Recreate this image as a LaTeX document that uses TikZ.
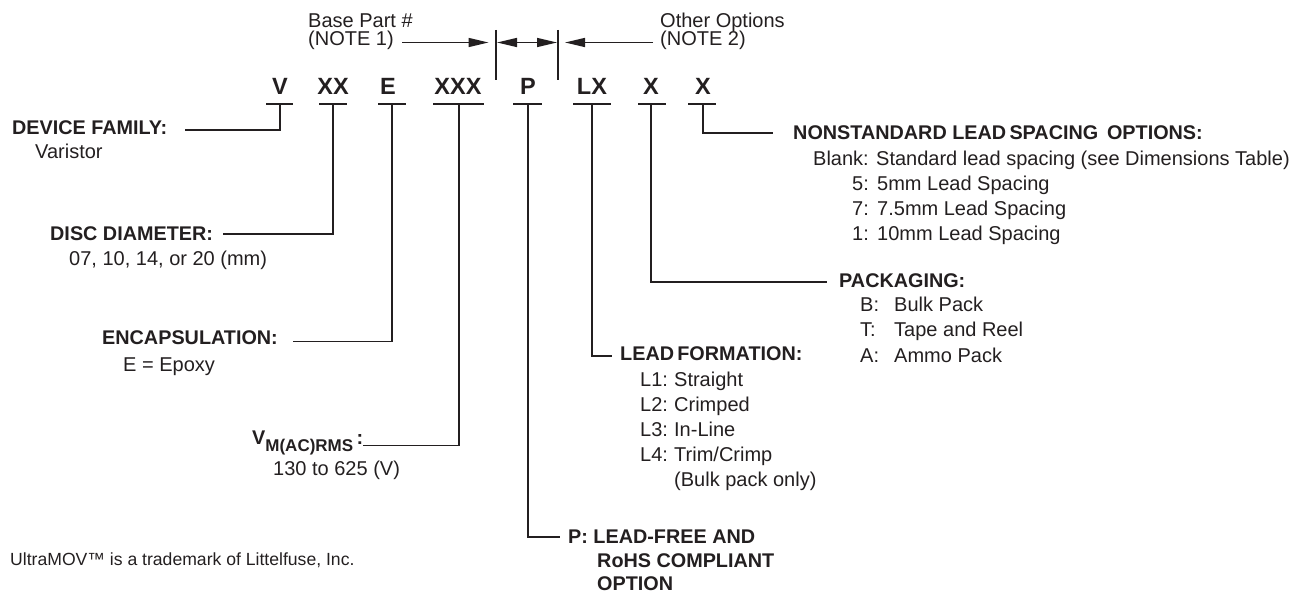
\documentclass[tikz,border=0pt]{standalone}
\usepackage{fontspec}
\setmainfont{Liberation Sans}
\usetikzlibrary{arrows.meta}
\definecolor{ink}{RGB}{35,31,32}
\begin{document}
\begin{tikzpicture}[x=1pt,y=-1pt,
  ln/.style={line width=1.5pt, draw=ink},
  thin/.style={line width=1.2pt, draw=ink},
  letter/.style={font=\fontsize{23.5}{24}\selectfont\bfseries, anchor=base, inner sep=0pt, text=ink},
  head/.style={font=\fontsize{19.8}{24}\selectfont\bfseries, anchor=base west, inner sep=0pt, text=ink},
  body/.style={font=\fontsize{20}{25}\selectfont, anchor=base west, inner sep=0pt, text=ink},
  arr/.style={-{Triangle[length=20pt,width=9pt]}}
]
\useasboundingbox (0,0) rectangle (1308,593);

% ---------- header ----------
\node[body] (bp1) at (308,28) {Base Part \#};
\node[body] (bp2) at (308,46) {(NOTE 1)};
\node[body] (oo1) at (660,28) {Other Options};
\node[body] (oo2) at (660,46) {(NOTE 2)};
\coordinate (s1t) at (496,30); \coordinate (s1b) at (496,80);
\coordinate (s2t) at (558,30); \coordinate (s2b) at (558,80);
\draw[thin] (s1t) -- (s1b);
\draw[thin] (s2t) -- (s2b);
\coordinate (a1s) at (402,42.5); \coordinate (a1e) at (488.5,42.5);
\coordinate (a2s) at (497,42.5); \coordinate (a2e) at (557,42.5);
\coordinate (a3s) at (653,42.5); \coordinate (a3e) at (565,42.5);
\draw[ln,arr] (a1s) -- (a1e);
\draw[ln,{Triangle[length=20pt,width=9pt]}-{Triangle[length=20pt,width=9pt]}] (a2s) -- (a2e);
\draw[ln,arr] (a3s) -- (a3e);

% ---------- part-number letters ----------
\node[letter] (lV)   at (280,95) {V};
\node[letter] (lXX)  at (333,95) {XX};
\node[letter] (lE)   at (388,95) {E};
\node[letter] (lXXX) at (458,95) {XXX};
\node[letter] (lP)   at (528,95) {P};
\node[letter] (lLX)  at (592,95) {LX};
\node[letter] (lXa)  at (651,95) {X};
\node[letter] (lXb)  at (703,95) {X};

% bars under letters
\draw[ln] (266,104) -- (293,104);
\draw[ln] (319,104) -- (347,104);
\draw[ln] (378,104) -- (406,104);
\draw[ln] (433,104) -- (484,104);
\draw[ln] (513,104) -- (542,104);
\draw[ln] (573,104) -- (611,104);
\draw[ln] (638,104) -- (666,104);
\draw[ln] (688,104) -- (716,104);

\coordinate (bV)   at (280,104);
\coordinate (bXX)  at (333,104);
\coordinate (bE)   at (392,104);
\coordinate (bXXX) at (459,104);
\coordinate (bP)   at (528,104);
\coordinate (bLX)  at (592,104);
\coordinate (bXa)  at (651,104);
\coordinate (bXb)  at (703,104);

% ---------- labels ----------
\node[head] (devfam) at (12,135) {DEVICE FAMILY:};
\node[body] (devfamd) at (35,159) {Varistor};

\node[head] (disc) at (50,241) {DISC DIAMETER:};
\node[body] (discd) at (69,266) {07, 10, 14, or 20 (mm)};

\node[head] (encap) at (102,344.5) {ENCAPSULATION:};
\node[body] (encapd) at (123,371.5) {E = Epoxy};

\node[head] (vm) at (252,444.5) {V\raisebox{-7pt}{\fontsize{17}{17}\selectfont M(AC)RMS}\,:};
\node[body] (vmd) at (273,475) {130 to 625 (V)};

\node[head] (pf1) at (568,543) {P: LEAD-FREE AND};
\node[head] (pf2) at (597,567) {RoHS COMPLIANT};
\node[head] (pf3) at (597,590.5) {OPTION};

\node[head] (lf) at (620,360) {LEAD\,FORMATION:};
\node[body] (lf1) at (640,386.5) {\makebox[34pt][l]{L1:}Straight};
\node[body] (lf2) at (640,411.5) {\makebox[34pt][l]{L2:}Crimped};
\node[body] (lf3) at (640,436.5) {\makebox[34pt][l]{L3:}In-Line};
\node[body] (lf4) at (640,461.5) {\makebox[34pt][l]{L4:}Trim/Crimp};
\node[body] (lf5) at (674,486.5) {(Bulk pack only)};

\node[head] (pk) at (839,288) {PACKAGING:};
\node[body] (pk1) at (860,312) {\makebox[34pt][l]{B:}Bulk Pack};
\node[body] (pk2) at (860,337) {\makebox[34pt][l]{T:}Tape and Reel};
\node[body] (pk3) at (860,362) {\makebox[34pt][l]{A:}Ammo Pack};

\node[head] (ns) at (793,139.7) {NONSTANDARD LEAD\,SPACING\, OPTIONS:};
\node[body] (ns0) at (813,165.5) {Blank: Standard lead spacing (see Dimensions Table)};
\node[body] (ns1) at (852,190.5) {\makebox[25pt][l]{5:}5mm Lead Spacing};
\node[body] (ns2) at (852,215.5) {\makebox[25pt][l]{7:}7.5mm Lead Spacing};
\node[body] (ns3) at (852,240.5) {\makebox[25pt][l]{1:}10mm Lead Spacing};

\node[body, font=\fontsize{17.6}{22}\selectfont] (tm) at (10,565) {UltraMOV™ is a trademark of Littelfuse, Inc.};

% ---------- connector ends ----------
\coordinate (eV)   at (185,130);
\coordinate (eXX)  at (223,234);
\coordinate (eE)   at (293,341.5);
\coordinate (eXXX) at (363,445.5);
\coordinate (eP)   at (560,537);
\coordinate (eLX)  at (612,356);
\coordinate (eXa)  at (827,282);
\coordinate (eXb)  at (773,133);

\draw[ln] (bV) |- (eV);
\draw[ln] (bXX) |- (eXX);
\draw[ln] (bE) |- (eE);
\draw[ln] (bXXX) |- (eXXX);
\draw[ln] (bP) |- (eP);
\draw[ln] (bLX) |- (eLX);
\draw[ln] (bXa) |- (eXa);
\draw[ln] (bXb) |- (eXb);
\end{tikzpicture}
\end{document}
